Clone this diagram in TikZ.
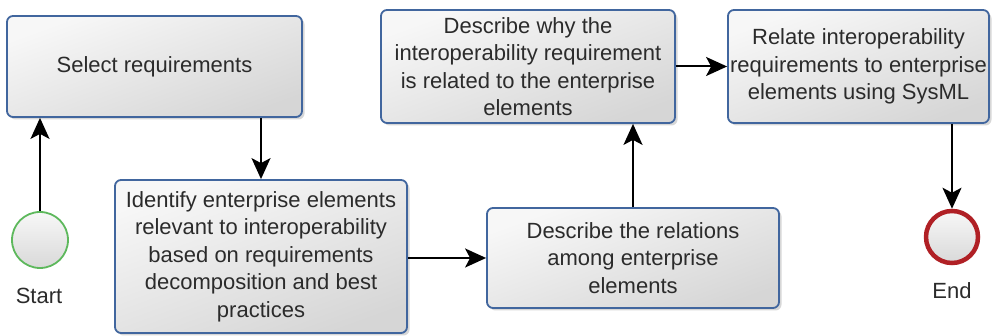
\documentclass[tikz,border=0pt]{standalone}
\usepackage{fontspec}
\setmainfont{Liberation Sans}
\usetikzlibrary{arrows.meta,shadows,calc}
\definecolor{boxborder}{HTML}{41669E}
\definecolor{txt}{HTML}{2B2B2B}
\definecolor{startgreen}{HTML}{5DB85C}
\definecolor{endred}{HTML}{B02025}
\tikzset{
  procbox/.style={draw=boxborder, line width=1.8pt, rounded corners=6pt,
    top color=gray!6, bottom color=gray!32, shading angle=20,
    drop shadow={shadow xshift=2.5pt, shadow yshift=-2.5pt, fill=gray!70, opacity=0.45},
    align=center, text=txt, inner sep=2pt,
    font=\fontsize{22}{27.5}\selectfont},
  evt/.style={circle, minimum size=56pt, inner sep=0pt,
    top color=gray!6, bottom color=gray!30},
  lbl/.style={text=txt, font=\fontsize{22}{26}\selectfont},
  flowarrow/.style={draw=black, line width=2pt, -{Stealth[length=21pt, width=19pt, inset=5pt]}}
}
\begin{document}
\begin{tikzpicture}[x=1pt,y=1pt]
\useasboundingbox (0,0) rectangle (993,336);
\node[procbox, minimum width=295pt, minimum height=101pt] (b1) at (154.5,269.5) {Select requirements};
\node[procbox, minimum width=292pt, minimum height=153pt] (b2) at (261,79.5)
  {Identify enterprise elements\\relevant to interoperability\\based on requirements\\decomposition and best\\practices};
\node[procbox, minimum width=294pt, minimum height=113pt] (b3) at (528,269.5)
  {Describe why the\\interoperability requirement\\is related to the enterprise\\elements};
\node[procbox, minimum width=292pt, minimum height=100pt] (b4) at (633,78)
  {Describe the relations\\among enterprise\\elements};
\node[procbox, minimum width=261pt, minimum height=113pt] (b5) at (858.5,269.5)
  {Relate interoperability\\requirements to enterprise\\elements using SysML};
\node[evt, draw=startgreen, line width=1.8pt] (start) at (40,96) {};
\node[evt, draw=endred, line width=4.5pt, minimum size=52pt] (end) at (952,99) {};
\node[lbl] (startlbl) at (39,40) {Start};
\node[lbl] (endlbl) at (952,45) {End};
\draw[flowarrow] (start.north) -- (start.north |- b1.south);
\draw[flowarrow] (b1.south -| b2.north) -- (b2.north);
\draw[flowarrow] (b2.east |- b4.west) -- (b4.west);
\draw[flowarrow] (b4.north) -- (b4.north |- b3.south);
\draw[flowarrow] (b3.east) -- (b5.west);
\draw[flowarrow] (b5.south -| end.north) -- (end.north);
\end{tikzpicture}
\end{document}
